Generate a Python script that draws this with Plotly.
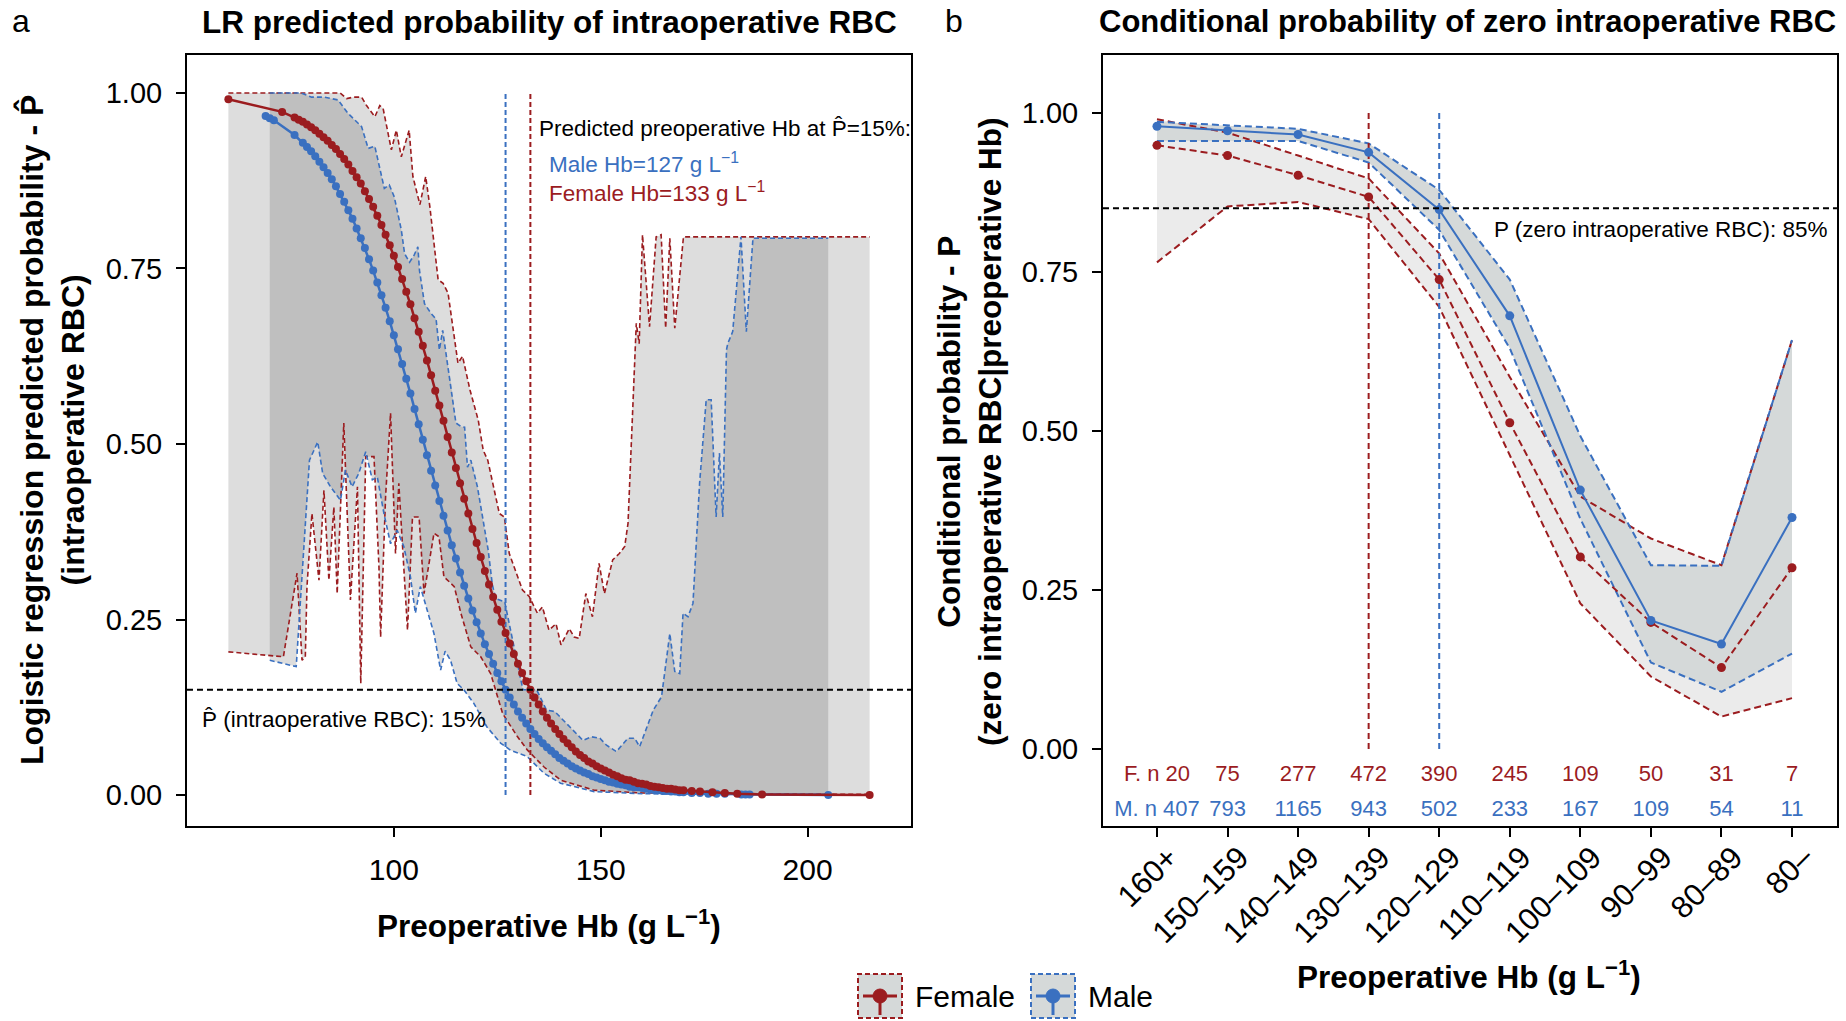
import plotly.graph_objects as go

RED = "#9b1c1f"
BLUE = "#3a70c0"
FONT = "Liberation Sans, Arial, sans-serif"
W, H = 1846, 1021

# ---------------- Panel a data ----------------
female_cut = 133
male_cut = 127
p_hat_threshold = 0.15

fem_hb = [60, 73, 76, 77, 78, 79, 80, 81, 82, 83, 84, 85, 86, 87, 88, 89, 90, 91, 92, 93, 94, 95,
          96, 97, 98, 99, 100, 101, 102, 103, 104, 105, 106, 107, 108, 109, 110, 111, 112, 113,
          114, 115, 116, 117, 118, 119, 120, 121, 122, 123, 124, 125, 126, 127, 128, 129, 130,
          131, 132, 133, 134, 135, 136, 137, 138, 139, 140, 141, 142, 143, 144, 145, 146, 147,
          148, 149, 150, 151, 152, 153, 154, 155, 156, 157, 158, 159, 160, 161, 162, 163, 164,
          165, 166, 167, 168, 169, 170, 172, 174, 177, 180, 183, 189, 215]
fem_p = [0.991, 0.973, 0.965, 0.962, 0.959, 0.955, 0.951, 0.947, 0.942, 0.937, 0.932, 0.926,
         0.920, 0.913, 0.906, 0.898, 0.889, 0.880, 0.871, 0.860, 0.849, 0.838, 0.825, 0.812,
         0.798, 0.783, 0.768, 0.752, 0.735, 0.717, 0.699, 0.679, 0.660, 0.640, 0.619, 0.598,
         0.576, 0.555, 0.533, 0.510, 0.488, 0.466, 0.444, 0.422, 0.401, 0.379, 0.359, 0.339,
         0.319, 0.300, 0.282, 0.264, 0.247, 0.231, 0.216, 0.201, 0.187, 0.174, 0.162, 0.150,
         0.139, 0.129, 0.119, 0.110, 0.102, 0.094, 0.087, 0.080, 0.074, 0.068, 0.062, 0.057,
         0.053, 0.048, 0.045, 0.041, 0.038, 0.035, 0.032, 0.029, 0.027, 0.024, 0.022, 0.021,
         0.019, 0.017, 0.016, 0.015, 0.013, 0.012, 0.011, 0.010, 0.009, 0.009, 0.008, 0.007,
         0.007, 0.006, 0.005, 0.004, 0.003, 0.002, 0.001, 0.000]

male_hb = [69, 70, 71, 76, 78, 79, 80, 81, 82, 83, 84, 85, 86, 87, 88, 89, 90, 91, 92, 93, 94,
           95, 96, 97, 98, 99, 100, 101, 102, 103, 104, 105, 106, 107, 108, 109, 110, 111, 112,
           113, 114, 115, 116, 117, 118, 119, 120, 121, 122, 123, 124, 125, 126, 127, 128, 129,
           130, 131, 132, 133, 134, 135, 136, 137, 138, 139, 140, 141, 142, 143, 144, 145, 146,
           147, 148, 149, 150, 151, 152, 153, 154, 155, 156, 157, 158, 159, 160, 161, 162, 163,
           164, 165, 166, 167, 168, 169, 170, 172, 174, 176, 178, 180, 184, 185, 186, 205]
male_p = [0.967, 0.964, 0.961, 0.940, 0.929, 0.923, 0.917, 0.910, 0.902, 0.894, 0.886, 0.877,
          0.867, 0.856, 0.845, 0.833, 0.821, 0.807, 0.793, 0.779, 0.763, 0.747, 0.730, 0.712,
          0.694, 0.675, 0.655, 0.635, 0.614, 0.593, 0.572, 0.550, 0.528, 0.506, 0.484, 0.462,
          0.441, 0.419, 0.398, 0.377, 0.356, 0.337, 0.317, 0.298, 0.280, 0.263, 0.246, 0.230,
          0.215, 0.201, 0.187, 0.174, 0.162, 0.150, 0.139, 0.129, 0.119, 0.110, 0.102, 0.094,
          0.087, 0.080, 0.074, 0.068, 0.063, 0.058, 0.053, 0.049, 0.045, 0.041, 0.038, 0.035,
          0.032, 0.030, 0.027, 0.025, 0.023, 0.021, 0.019, 0.018, 0.016, 0.015, 0.014, 0.012,
          0.011, 0.011, 0.010, 0.009, 0.008, 0.007, 0.007, 0.006, 0.006, 0.005, 0.005, 0.004,
          0.004, 0.003, 0.003, 0.002, 0.002, 0.002, 0.001, 0.001, 0.001, 0.000]

fem_up_x = [60, 87.0, 88.6, 90.2, 92.2, 93.4, 95.4, 96.6, 97.4, 99.4, 100.6, 101.8, 103.7, 104.6,
            106.3, 107.7, 108.7, 110.7, 111.9, 113.1, 115.5, 116.6, 118.4, 120.4, 121.6, 122.7,
            125.5, 126.7, 127.9, 131.1, 132.7, 134.7, 135.9, 137.5, 139.2, 140.4, 142.4, 143.6,
            144.8, 146.4, 148.0, 149.6, 150.9, 152.9, 154.5, 155.8, 156.6, 157.0, 158.2, 158.6,
            159.3, 160.1, 161.0, 161.8, 163.4, 164.6, 165.7, 166.7, 167.9, 170.0, 215.0]
fem_up_y = [1.000, 1.000, 0.992, 0.994, 0.994, 0.982, 0.966, 0.982, 0.978, 0.919, 0.947, 0.909,
            0.947, 0.881, 0.841, 0.881, 0.838, 0.734, 0.729, 0.715, 0.615, 0.625, 0.577, 0.534,
            0.491, 0.477, 0.401, 0.396, 0.344, 0.292, 0.283, 0.259, 0.268, 0.235, 0.244, 0.214,
            0.237, 0.225, 0.223, 0.287, 0.254, 0.330, 0.287, 0.335, 0.344, 0.354, 0.387, 0.449,
            0.634, 0.672, 0.643, 0.798, 0.729, 0.667, 0.795, 0.798, 0.665, 0.793, 0.665, 0.795,
            0.795]

fem_lo_x = [60, 73.3, 76.6, 77.8, 78.6, 79.0, 80.2, 81.9, 83.1, 84.3, 85.5, 86.3, 87.9, 89.5, 91.2,
            92.0, 93.2, 95.2, 96.4, 96.8, 98.0, 99.2, 100.4, 101.2, 103.3, 104.5, 106.1, 107.3,
            109.7, 110.9, 112.1, 114.6, 116.2, 118.6, 121.0, 123.4, 126.3, 129.9, 132.3, 136.3,
            140.4, 148.4, 160, 180, 215]
fem_lo_y = [0.204, 0.197, 0.316, 0.192, 0.197, 0.297, 0.401, 0.306, 0.434, 0.306, 0.410, 0.287,
            0.530, 0.278, 0.439, 0.159, 0.482, 0.482, 0.325, 0.225, 0.425, 0.544, 0.344, 0.444,
            0.235, 0.396, 0.396, 0.287, 0.373, 0.368, 0.311, 0.297, 0.259, 0.211, 0.197, 0.173,
            0.116, 0.083, 0.064, 0.040, 0.021, 0.007, 0.003, 0.002, 0.001]

male_up_x = [70, 77.6, 80.1, 83.3, 86.5, 88.9, 92.2, 93.8, 95.4, 97.7, 98.9, 100.1, 101.8, 102.6,
             103.8, 104.9, 105.8, 106.2, 107.4, 109.0, 110.2, 111.0, 111.8, 112.6, 113.8, 115.0,
             116.2, 117.1, 117.8, 118.6, 120.2, 121.8, 122.8, 123.8, 124.6, 126.8, 128.4, 131.2,
             134.5, 136.9, 138.9, 142.1, 145.7, 147.8, 149.8, 151.4, 153.8, 156.6, 158.2, 159.4,
             162.7, 164.7, 166.7, 167.9, 169.1, 169.9, 171.1, 172.3, 173.9, 175.5, 176.7, 177.9,
             178.7, 179.5, 180.4, 180.7, 181.9, 183.9, 185.2, 186.8, 205.0]
male_up_y = [1.000, 1.000, 0.994, 0.994, 0.990, 0.971, 0.952, 0.921, 0.924, 0.864, 0.869, 0.852,
             0.805, 0.771, 0.759, 0.769, 0.781, 0.747, 0.700, 0.686, 0.678, 0.634, 0.662, 0.629,
             0.587, 0.530, 0.525, 0.524, 0.467, 0.477, 0.439, 0.382, 0.349, 0.300, 0.280, 0.275,
             0.230, 0.150, 0.150, 0.121, 0.119, 0.100, 0.078, 0.083, 0.081, 0.071, 0.062, 0.081,
             0.081, 0.069, 0.121, 0.140, 0.230, 0.176, 0.173, 0.259, 0.254, 0.273, 0.444, 0.563,
             0.563, 0.396, 0.487, 0.396, 0.634, 0.643, 0.660, 0.795, 0.660, 0.793, 0.793]

male_lo_x = [70, 76.4, 79.6, 81.6, 82.8, 84.7, 87.1, 88.3, 89.9, 91.5, 93.2, 94.8, 96.0, 97.6, 99.2,
             100.8, 102.4, 104.0, 105.2, 106.4, 109.7, 111.3, 112.4, 113.7, 115.3, 116.9, 119.3,
             122.5, 125.8, 128.2, 132.2, 136.3, 140.3, 148.4, 160, 180, 205]
male_lo_y = [0.192, 0.183, 0.477, 0.503, 0.458, 0.439, 0.420, 0.463, 0.439, 0.458, 0.489, 0.449,
             0.453, 0.401, 0.358, 0.377, 0.354, 0.311, 0.259, 0.297, 0.230, 0.178, 0.205, 0.192,
             0.159, 0.150, 0.131, 0.097, 0.074, 0.064, 0.055, 0.031, 0.017, 0.005, 0.002, 0.001,
             0.001]

# ---------------- Panel b data ----------------
p_zero_threshold = 0.85
cats = ["160+", "150–159", "140–149", "130–139", "120–129", "110–119", "100–109",
        "90–99", "80–89", "80–"]
female_cat_cut = "130–139"
male_cat_cut = "120–129"
male_cond = [0.979, 0.972, 0.966, 0.938, 0.848, 0.681, 0.407, 0.202, 0.165, 0.364]
male_cond_hi = [0.986, 0.980, 0.975, 0.952, 0.879, 0.738, 0.492, 0.289, 0.288, 0.643]
male_cond_lo = [0.956, 0.956, 0.956, 0.922, 0.816, 0.630, 0.362, 0.136, 0.090, 0.150]
fem_cond = [0.949, 0.933, 0.902, 0.868, 0.738, 0.513, 0.302, 0.199, 0.128, 0.285]
fem_cond_hi = [0.990, 0.969, 0.933, 0.897, 0.779, 0.585, 0.397, 0.331, 0.289, 0.643]
fem_cond_lo = [0.765, 0.853, 0.860, 0.833, 0.695, 0.462, 0.229, 0.114, 0.051, 0.080]
fem_n = [20, 75, 277, 472, 390, 245, 109, 50, 31, 7]
male_n = [407, 793, 1165, 943, 502, 233, 167, 109, 54, 11]
fem_n_row = -0.041
male_n_row = -0.096

legend_names = ["Female", "Male"]
legend_colors = [RED, BLUE]

fig = go.Figure()

# ---- Panel a: bands ----
band_a = "rgba(0,0,0,0.135)"
fig.add_trace(go.Scatter(x=fem_up_x + fem_lo_x[::-1], y=fem_up_y + fem_lo_y[::-1],
                         fill="toself", fillcolor=band_a, mode="none", showlegend=False,
                         hoverinfo="skip", xaxis="x", yaxis="y"))
fig.add_trace(go.Scatter(x=male_up_x + male_lo_x[::-1], y=male_up_y + male_lo_y[::-1],
                         fill="toself", fillcolor=band_a, mode="none", showlegend=False,
                         hoverinfo="skip", xaxis="x", yaxis="y"))
for xs, ys, c in [(fem_up_x, fem_up_y, RED), (fem_lo_x, fem_lo_y, RED),
                  (male_up_x, male_up_y, BLUE), (male_lo_x, male_lo_y, BLUE)]:
    fig.add_trace(go.Scatter(x=xs, y=ys, mode="lines", showlegend=False, hoverinfo="skip",
                             line=dict(color=c, width=1.6, dash="5px,3px"),
                             xaxis="x", yaxis="y"))
for cut, c in [(male_cut, BLUE), (female_cut, RED)]:
    fig.add_trace(go.Scatter(x=[cut, cut], y=[0, 1], mode="lines", showlegend=False,
                             hoverinfo="skip", line=dict(color=c, width=2, dash="5px,3px"),
                             xaxis="x", yaxis="y"))
fig.add_shape(type="line", xref="x domain", yref="y", x0=0, x1=1,
              y0=p_hat_threshold, y1=p_hat_threshold,
              line=dict(color="black", width=2, dash="6px,4px"))
fig.add_trace(go.Scatter(x=male_hb, y=male_p, mode="lines+markers", name="Male",
                         showlegend=False, line=dict(color=BLUE, width=2.5),
                         marker=dict(color=BLUE, size=8), xaxis="x", yaxis="y"))
fig.add_trace(go.Scatter(x=fem_hb, y=fem_p, mode="lines+markers", name="Female",
                         showlegend=False, line=dict(color=RED, width=2.5),
                         marker=dict(color=RED, size=8), xaxis="x", yaxis="y"))

# ---- Panel b: bands ----
fig.add_trace(go.Scatter(x=cats + cats[::-1], y=fem_cond_hi + fem_cond_lo[::-1],
                         fill="toself", fillcolor="#ebebeb", mode="none", showlegend=False,
                         hoverinfo="skip", xaxis="x2", yaxis="y2"))
fig.add_trace(go.Scatter(x=cats + cats[::-1], y=male_cond_hi + male_cond_lo[::-1],
                         fill="toself", fillcolor="#d5d9d9", mode="none", showlegend=False,
                         hoverinfo="skip", xaxis="x2", yaxis="y2"))
for ys, c in [(fem_cond_hi, RED), (fem_cond_lo, RED), (male_cond_hi, BLUE), (male_cond_lo, BLUE)]:
    fig.add_trace(go.Scatter(x=cats, y=ys, mode="lines", showlegend=False, hoverinfo="skip",
                             line=dict(color=c, width=2, dash="7px,4px"),
                             xaxis="x2", yaxis="y2"))
for cut, c in [(female_cat_cut, RED), (male_cat_cut, BLUE)]:
    fig.add_trace(go.Scatter(x=[cut, cut], y=[0, 1], mode="lines", showlegend=False,
                             hoverinfo="skip", line=dict(color=c, width=2, dash="6px,4px"),
                             xaxis="x2", yaxis="y2"))
fig.add_shape(type="line", xref="x2 domain", yref="y2", x0=0, x1=1,
              y0=p_zero_threshold, y1=p_zero_threshold,
              line=dict(color="black", width=2, dash="6px,4px"))
fig.add_trace(go.Scatter(x=cats, y=fem_cond, mode="lines+markers", showlegend=False,
                         line=dict(color=RED, width=2, dash="7px,4px"),
                         marker=dict(color=RED, size=9), xaxis="x2", yaxis="y2"))
fig.add_trace(go.Scatter(x=cats, y=male_cond, mode="lines+markers", showlegend=False,
                         line=dict(color=BLUE, width=2), marker=dict(color=BLUE, size=9),
                         xaxis="x2", yaxis="y2"))
fem_labels = ["F. n " + str(fem_n[0])] + [str(v) for v in fem_n[1:]]
male_labels = ["M. n " + str(male_n[0])] + [str(v) for v in male_n[1:]]
fig.add_trace(go.Scatter(x=cats, y=[fem_n_row] * len(cats), mode="text", text=fem_labels,
                         textfont=dict(color=RED, size=22, family=FONT), showlegend=False,
                         hoverinfo="skip", xaxis="x2", yaxis="y2"))
fig.add_trace(go.Scatter(x=cats, y=[male_n_row] * len(cats), mode="text", text=male_labels,
                         textfont=dict(color=BLUE, size=22, family=FONT), showlegend=False,
                         hoverinfo="skip", xaxis="x2", yaxis="y2"))

axis_common = dict(showgrid=False, zeroline=False, showline=True, mirror=True,
                   linecolor="black", linewidth=2, ticks="outside", ticklen=9, tickwidth=2,
                   tickcolor="black")

fig.update_layout(
    width=W, height=H,
    margin=dict(l=0, r=0, t=0, b=0),
    paper_bgcolor="white", plot_bgcolor="white",
    font=dict(family=FONT, color="black"),
    showlegend=False,
    xaxis=dict(domain=[0.1013, 0.4935], range=[50, 225], tickvals=[100, 150, 200],
               anchor="y", ticklabelstandoff=7,
               tickfont=dict(family=FONT, size=30, color="black"), **axis_common),
    yaxis=dict(domain=[0.191, 0.9461], range=[-0.044, 1.054],
               tickvals=[0, 0.25, 0.5, 0.75, 1.0], tickformat=".2f", anchor="x",
               ticklabelstandoff=8, tickfont=dict(family=FONT, size=29, color="black"),
               **axis_common),
    xaxis2=dict(domain=[0.5975, 0.9951], type="category", categoryorder="array",
                categoryarray=cats, range=[-0.765, 9.637], tickangle=-45, anchor="y2",
                ticklabelstandoff=-10, ticklabelshift=12,
                tickfont=dict(family=FONT, size=31, color="black"), **axis_common),
    yaxis2=dict(domain=[0.191, 0.9461], range=[-0.121, 1.091],
                tickvals=[0, 0.25, 0.5, 0.75, 1.0], tickformat=".2f", anchor="x2",
                ticklabelstandoff=8, tickfont=dict(family=FONT, size=29, color="black"),
                **axis_common),
)

ann = []
TF = 31.5
ann.append(dict(text="<b>LR predicted probability of intraoperative RBC</b>", xref="paper",
                yref="paper", x=0.2974, y=0.9785, showarrow=False, font=dict(size=TF),
                xanchor="center", yanchor="middle"))
ann.append(dict(text="<b>Conditional probability of zero intraoperative RBC</b>", xref="paper",
                yref="paper", x=0.7947, y=0.9785, showarrow=False, font=dict(size=31),
                xanchor="center", yanchor="middle"))
ann.append(dict(text="a", xref="paper", yref="paper", x=0.0114, y=0.9794, showarrow=False,
                font=dict(size=32), xanchor="center", yanchor="middle"))
ann.append(dict(text="b", xref="paper", yref="paper", x=0.5168, y=0.9794, showarrow=False,
                font=dict(size=32), xanchor="center", yanchor="middle"))
ann.append(dict(text="<b>Preoperative Hb (g L<sup>−1</sup>)</b>", xref="paper", yref="paper",
                x=0.2974, y=0.095, showarrow=False, font=dict(size=TF),
                xanchor="center", yanchor="middle"))
ann.append(dict(text="<b>Preoperative Hb (g L<sup>−1</sup>)</b>", xref="paper", yref="paper",
                x=0.7958, y=0.0451, showarrow=False, font=dict(size=TF),
                xanchor="center", yanchor="middle"))
ann.append(dict(text="<b>Logistic regression predicted probability - P\u0302</b><br>"
                     "<b>(intraoperative RBC)</b>", xref="paper", yref="paper",
                x=0.0282, y=0.5789, showarrow=False, font=dict(size=32), textangle=-90,
                xanchor="center", yanchor="middle"))
ann.append(dict(text="<b>Conditional probability - P</b><br>"
                     "<b>(zero intraoperative RBC|preoperative Hb)</b>", xref="paper",
                yref="paper", x=0.5255, y=0.5769, showarrow=False, font=dict(size=TF),
                textangle=-90, xanchor="center", yanchor="middle"))
ann.append(dict(text="Predicted preoperative Hb at P\u0302=15%:", xref="x", yref="y",
                x=134.5, y=0.949, showarrow=False, font=dict(size=22.5),
                xanchor="left", yanchor="middle"))
ann.append(dict(text="Male Hb=%d g L<sup>−1</sup>" % male_cut, xref="x", yref="y",
                x=136.9, y=0.900, showarrow=False, font=dict(size=22.5, color=BLUE),
                xanchor="left", yanchor="middle"))
ann.append(dict(text="Female Hb=%d g L<sup>−1</sup>" % female_cut, xref="x", yref="y",
                x=136.9, y=0.859, showarrow=False, font=dict(size=22.5, color=RED),
                xanchor="left", yanchor="middle"))
ann.append(dict(text="P\u0302 (intraoperative RBC): 15%", xref="x", yref="y",
                x=53.1, y=0.107, showarrow=False, font=dict(size=22.5),
                xanchor="left", yanchor="middle"))
ann.append(dict(text="P (zero intraoperative RBC): 85%", xref="x2", yref="y2",
                x=4.75, y=0.816, showarrow=False, font=dict(size=22.5),
                xanchor="left", yanchor="middle"))

# ---- legend keys (layout decoration, in pixel positions) ----
key_left = [858, 1031]      # px, left edge of each key box
key_size = 44               # px
key_cy = 996                # px, vertical centre of the legend row
for name, c, kx in zip(legend_names, legend_colors, key_left):
    x0, x1 = kx / W, (kx + key_size) / W
    y0, y1 = 1 - (key_cy + key_size / 2) / H, 1 - (key_cy - key_size / 2) / H
    cx, cy = (kx + key_size / 2) / W, 1 - key_cy / H
    fig.add_shape(type="rect", xref="paper", yref="paper", x0=x0, x1=x1, y0=y0, y1=y1,
                  fillcolor="#d5d9d9", line=dict(color=c, width=2, dash="5px,3px"))
    fig.add_shape(type="line", xref="paper", yref="paper", x0=(kx + 5) / W,
                  x1=(kx + key_size - 5) / W, y0=cy, y1=cy, line=dict(color=c, width=3))
    fig.add_shape(type="line", xref="paper", yref="paper", x0=cx, x1=cx, y0=y0 + 3 / H,
                  y1=cy, line=dict(color=c, width=3))
    fig.add_shape(type="circle", xref="paper", yref="paper", x0=cx - 7 / W, x1=cx + 7 / W,
                  y0=cy - 7 / H, y1=cy + 7 / H, fillcolor=c, line=dict(color=c, width=1))
    ann.append(dict(text=name, xref="paper", yref="paper", x=(kx + key_size + 11) / W,
                    y=cy, showarrow=False, font=dict(size=30), xanchor="left",
                    yanchor="middle"))

fig.update_layout(annotations=ann)

fig.write_html("out.html", config={"displayModeBar": False},
               post_script="document.body.style.margin='0';")
